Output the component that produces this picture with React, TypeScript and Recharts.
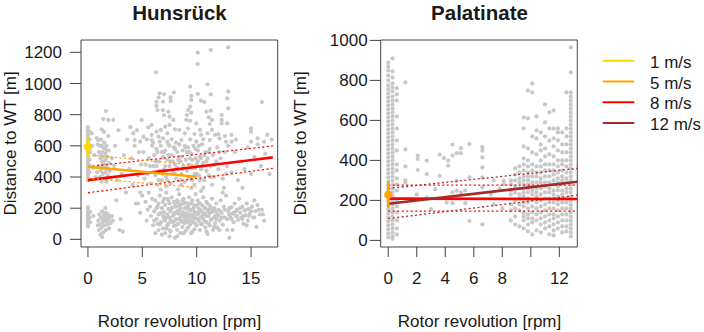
import React from 'react'
import { ScatterChart, Scatter, XAxis, YAxis, ReferenceArea } from 'recharts'

// wind speed classes (legend + fitted lines)
const speedLabels = ['1 m/s', '5 m/s', '8 m/s', '12 m/s']
const speedColors = ['#ffd700', '#ffa500', '#ff0000', '#a52a2a']

// ---------- Hunsrück: raw observations [rpm, distance m] ----------
const hunsZeroCol = [
  [0, 720], [0, 700], [0, 685], [0, 668], [0, 650], [0, 635], [0, 615], [0, 600], [0, 578], [0, 560],
  [0, 545], [0, 530], [0, 515], [0, 500], [0, 485], [0, 470], [0, 455], [0, 440], [0, 425], [0, 410],
  [0, 395], [0, 380], [0, 205], [0, 188], [0, 172], [0, 155], [0, 140], [0, 125], [0, 110], [0, 95], [0, 82],
  [0.15, 690], [0.15, 640], [0.2, 560], [0.15, 510], [0.2, 470], [0.15, 430], [0.2, 175], [0.15, 140],
  [0.2, 110], [0.34, 680], [0.4, 600], [0.5, 460], [0.6, 540], [0.7, 400], [0.8, 650], [0.5, 150],
  [0.9, 90], [0.95, 637],
]
const hunsLeftCluster = [
  [1.0, 560], [1.05, 470], [1.1, 600], [1.1, 400], [1.15, 520], [1.2, 440], [1.2, 640], [1.25, 370],
  [1.3, 500], [1.3, 560], [1.35, 420], [1.4, 590], [1.4, 460], [1.45, 530], [1.5, 390], [1.5, 620],
  [1.55, 480], [1.6, 550], [1.6, 430], [1.65, 510], [1.7, 370], [1.7, 600], [1.75, 460], [1.8, 530],
  [1.85, 410], [1.9, 570], [1.95, 490], [2.0, 440], [0.85, 430], [0.9, 610], [1.66, 823], [1.41, 772],
  [1.87, 766], [2.33, 766], [1.26, 706], [1.47, 689], [1.87, 663], [1.2, 540], [1.45, 500], [1.6, 470],
  [1.75, 570], [1.35, 480], [1.55, 580], [1.8, 450], [1.25, 600], [1.65, 390],
]
const hunsLowCluster = [
  [0.95, 120], [1.0, 60], [1.05, 160], [1.1, 95], [1.15, 30], [1.2, 140], [1.25, 75], [1.3, 180],
  [1.35, 110], [1.4, 45], [1.45, 150], [1.5, 90], [1.55, 130], [1.6, 170], [1.65, 60], [1.7, 115],
  [1.75, 145], [1.8, 95], [1.85, 160], [1.9, 125], [1.95, 70], [2.0, 140], [2.1, 105], [2.2, 150],
  [1.3, 15], [1.6, 200], [2.3, 120], [1.4, 130], [1.7, 150], [1.5, 165], [1.8, 120],
]
const hunsSparse = [
  [2.2, 520], [2.4, 470], [2.5, 600], [2.7, 380], [2.9, 60], [3.0, 130], [3.1, 420], [3.3, 540],
  [3.5, 300], [3.6, 640], [3.8, 450], [4.0, 520], [4.1, 350], [4.3, 600], [4.4, 230], [4.5, 700],
  [4.6, 410], [4.7, 560], [4.8, 300], [4.9, 480], [2.6, 250], [3.9, 720], [4.94, 766], [4.17, 680],
  [5.55, 719], [5.86, 734], [5.1, 659], [4.3, 637], [4.8, 627], [5.4, 642], [3.2, 50], [2.8, 700],
  [4.6, 230], [4.8, 170], [5.0, 280],
]
const hunsHigh = [
  [6.26, 1072], [6.6, 937], [7.0, 932], [6.5, 911], [7.6, 911], [7.9, 943], [6.3, 883], [6.9, 883],
  [7.6, 888], [6.3, 856], [6.4, 830], [6.9, 830], [7.4, 819], [7.0, 798], [7.5, 787], [7.85, 766],
  [7.5, 734], [7.1, 723], [6.7, 702], [6.3, 691], [7.3, 680], [8.0, 706], [5.86, 670], [6.5, 659],
  [6.9, 648], [7.7, 642], [5.86, 637], [6.6, 627], [7.3, 627], [10.1, 1198], [11.3, 1215], [12.9, 1232],
  [10.1, 1125], [9.4, 980], [11.0, 995], [11.3, 930], [12.9, 948], [12.8, 905], [12.9, 841], [16.0, 881],
  [9.5, 920], [9.5, 894], [10.1, 933], [10.4, 890], [10.7, 881], [9.4, 851], [9.2, 830], [9.5, 813],
  [9.1, 798], [9.05, 766], [9.4, 761], [10.9, 819], [11.3, 826], [11.1, 783], [11.4, 766], [11.2, 740],
  [12.3, 798], [12.3, 766], [12.3, 744], [12.8, 744], [9.96, 744], [8.4, 702], [9.2, 712], [8.9, 680],
  [9.8, 676], [10.3, 702], [10.4, 670], [11.4, 702], [11.0, 680], [11.7, 670], [12.0, 676], [12.6, 663],
  [13.2, 670], [15.0, 712], [15.0, 691], [15.6, 648], [16.5, 670], [8.6, 637], [9.4, 642], [9.96, 627],
  [10.6, 642], [11.2, 637], [12.1, 648], [12.7, 627], [13.2, 627], [15.0, 627], [16.2, 627],
]
const hunsUpperCloud = [
  [5.1, 560], [5.3, 480], [5.5, 420], [5.6, 520], [5.8, 360], [5.9, 600], [5.2, 390],
  [6.0, 470], [6.1, 540], [6.2, 410], [6.3, 580], [6.4, 350], [6.5, 500], [6.6, 440], [6.7, 600],
  [6.8, 380], [6.9, 530], [6.3, 470], [6.7, 320], [7.0, 450], [7.1, 570], [7.2, 400], [7.3, 510],
  [7.4, 610], [7.5, 470], [7.6, 360], [7.7, 540], [7.8, 430], [7.9, 590], [7.2, 340], [7.6, 500],
  [8.0, 480], [8.1, 390], [8.2, 560], [8.3, 450], [8.4, 610], [8.5, 500], [8.6, 420], [8.7, 570],
  [8.8, 470], [8.9, 370], [8.4, 530], [8.9, 600], [9.0, 510], [9.1, 440], [9.2, 590], [9.3, 480],
  [9.4, 390], [9.5, 550], [9.6, 460], [9.7, 600], [9.8, 420], [9.9, 520], [9.3, 560], [9.8, 350],
  [10.0, 480], [10.1, 570], [10.2, 410], [10.3, 530], [10.4, 450], [10.5, 610], [10.6, 490], [10.7, 380],
  [10.8, 560], [10.9, 440], [10.2, 600], [10.6, 330], [11.0, 520], [11.1, 410], [11.2, 580], [11.3, 470],
  [11.5, 540], [11.6, 400], [11.8, 500], [11.9, 590], [11.4, 350], [12.0, 450], [12.2, 520], [12.4, 390],
  [12.6, 560], [12.8, 470], [12.9, 600], [12.5, 330], [13.2, 430], [13.5, 560], [13.8, 380], [14.1, 500],
  [14.4, 450], [14.7, 590], [15.0, 420], [15.3, 530], [15.6, 610], [15.9, 470], [16.3, 550], [16.7, 420],
  [16.9, 640], [14.2, 330], [13.6, 640], [6.9, 420], [7.4, 540], [8.2, 460], [9.6, 510], [10.4, 520],
  [7.0, 560], [8.6, 530], [9.1, 560], [10.0, 420], [6.4, 560], [8.0, 580],
  [6.2, 500], [6.5, 380], [6.8, 560], [7.1, 470], [7.3, 380], [7.5, 600], [7.8, 500], [8.0, 420],
  [8.3, 510], [8.5, 380], [8.7, 450], [9.0, 590], [9.2, 400], [9.4, 520], [9.6, 380], [9.9, 460],
  [10.1, 500], [10.3, 380], [10.5, 470], [10.7, 540], [10.9, 500], [11.1, 560], [11.3, 400], [11.6, 480],
  [12.1, 560], [12.7, 420], [5.7, 470], [6.0, 620], [8.1, 620], [9.9, 580],
]
const hunsLowerCloud = [
  [5.3, 240], [5.5, 190], [5.6, 300], [5.8, 150], [5.9, 260], [5.4, 120], [5.7, 210], [6.0, 90],
  [6.1, 180], [6.2, 250], [6.3, 130], [6.4, 210], [6.5, 60], [6.5, 160], [6.6, 280], [6.7, 110],
  [6.8, 200], [6.9, 240], [6.9, 150], [6.2, 40], [6.6, 95], [6.8, 30], [7.0, 175], [7.1, 120],
  [7.1, 220], [7.2, 70], [7.3, 260], [7.3, 160], [7.4, 195], [7.4, 100], [7.5, 140], [7.5, 230],
  [7.6, 50], [7.6, 180], [7.7, 115], [7.7, 270], [7.8, 205], [7.8, 150], [7.9, 85], [7.9, 240],
  [8.0, 10], [8.0, 170], [7.2, 300], [7.5, 20], [8.1, 130], [8.1, 210], [8.2, 60], [8.2, 250],
  [8.3, 165], [8.3, 100], [8.4, 190], [8.4, 290], [8.5, 140], [8.5, 40], [8.6, 225], [8.6, 115],
  [8.7, 175], [8.7, 80], [8.8, 260], [8.8, 150], [8.9, 200], [8.9, 105], [9.0, 55], [9.0, 235],
  [8.3, 320], [8.6, 350], [9.1, 160], [9.1, 120], [9.2, 210], [9.2, 75], [9.3, 270], [9.3, 140],
  [9.4, 185], [9.4, 95], [9.5, 230], [9.5, 40], [9.6, 155], [9.6, 250], [9.7, 110], [9.7, 200],
  [9.8, 175], [9.8, 65], [9.9, 135], [9.9, 290], [10.0, 215], [10.0, 90], [9.5, 330], [10.1, 160],
  [10.1, 250], [10.2, 120], [10.2, 195], [10.3, 60], [10.3, 230], [10.4, 145], [10.5, 180], [10.5, 95],
  [10.6, 270], [10.6, 130], [10.7, 205], [10.8, 75], [10.8, 165], [10.9, 240], [10.9, 110], [11.0, 185],
  [11.0, 35], [10.4, 310], [11.1, 150], [11.2, 215], [11.2, 90], [11.3, 125], [11.4, 260], [11.4, 175],
  [11.5, 60], [11.6, 200], [11.6, 140], [11.7, 105], [11.8, 230], [11.9, 160], [11.9, 75], [12.0, 190],
  [12.1, 120], [12.2, 250], [12.3, 170], [12.4, 95], [12.5, 210], [12.6, 140], [12.7, 280], [12.8, 60],
  [12.9, 180], [13.0, 10], [12.4, 300], [13.1, 140], [13.2, 205], [13.3, 165], [13.4, 110], [13.5, 230],
  [13.6, 150], [13.7, 190], [13.8, 125], [13.9, 260], [14.0, 170], [14.1, 140], [14.2, 210], [14.3, 100],
  [14.4, 185], [14.5, 155], [14.6, 230], [14.7, 120], [14.8, 195], [14.9, 165], [15.1, 210], [15.2, 140],
  [15.4, 180], [15.5, 80], [15.6, 220], [15.8, 160], [16.0, 190], [16.2, 120], [15.3, 250],
  [7.0, 130], [7.8, 110], [8.4, 220], [8.9, 130], [9.3, 190], [9.9, 160], [10.5, 140], [11.1, 190],
  [11.7, 150], [12.3, 140], [13.0, 160], [13.6, 180], [14.3, 150], [8.0, 120], [9.0, 170], [10.2, 170],
  [6.1, 120], [6.3, 200], [6.5, 230], [6.7, 170], [6.9, 70], [7.0, 260], [7.2, 140], [7.3, 90],
  [7.4, 250], [7.6, 120], [7.7, 200], [7.9, 160], [8.0, 230], [8.1, 90], [8.2, 180], [8.3, 240],
  [8.4, 130], [8.5, 200], [8.6, 160], [8.7, 250], [8.8, 110], [8.9, 230], [9.0, 140], [9.1, 200],
  [9.2, 110], [9.3, 230], [9.4, 160], [9.5, 120], [9.6, 190], [9.7, 140], [9.8, 220], [9.9, 100],
  [10.0, 170], [10.1, 130], [10.2, 230], [10.3, 190], [10.4, 100], [10.5, 220], [10.6, 160], [10.7, 120],
  [10.8, 200], [10.9, 150], [11.0, 230], [11.1, 100], [11.2, 170], [11.3, 200], [11.4, 130], [11.5, 190],
  [11.6, 80], [11.7, 180], [11.8, 130], [12.0, 150], [12.2, 180], [12.4, 140], [12.6, 190], [12.8, 130],
  [13.0, 200], [13.2, 130], [13.4, 170], [13.7, 150], [14.0, 200], [14.2, 130], [14.5, 190], [14.8, 150],
  [15.0, 180], [15.3, 140], [15.7, 190], [16.1, 160], [7.5, 60], [8.8, 40], [9.6, 50], [10.9, 50],
  [12.1, 60], [6.4, 100], [7.1, 40], [8.2, 20], [13.3, 60], [14.6, 90],
]

// Hunsrück fitted relationships
const hunsMean1 = 592
const hunsBar1 = [530, 658]
const hunsX5 = [0, 10]
const hunsFit5 = [466, 402]
const hunsLow5 = [392, 333]
const hunsHigh5 = [543, 475]
const hunsX8 = [0, 17]
const hunsFit8 = [380, 526]
const hunsLow8 = [299, 455]
const hunsHigh8 = [466, 600]

// ---------- Palatinate: raw observations ----------
const palLeftX = [0, 0.3, 0.6]
const palLeftY = [
  [890, 870, 850, 825, 800, 775, 755, 735, 715, 695, 675, 655, 635, 615, 595, 575, 555, 535, 515, 495,
    475, 455, 435, 415, 395, 375, 355, 335, 315, 295, 275, 255, 235, 215, 195, 175, 155, 135, 115, 95, 75,
    55, 35, 15],
  [910, 845, 815, 785, 765, 745, 720, 700, 680, 660, 640, 620, 600, 580, 560, 540, 520, 500, 480, 460,
    440, 420, 400, 380, 360, 340, 320, 300, 280, 260, 240, 220, 200, 180, 160, 140, 120, 100, 80, 60, 40,
    20, 8],
  [760, 730, 700, 620, 560, 500, 450, 380, 350, 310, 280, 250, 200, 170, 140, 100, 60, 30],
]
const palMid = [
  [1.2, 790], [1.2, 455], [1.2, 370], [1.2, 300], [1.2, 290], [2.07, 424], [2.07, 407], [2.07, 352],
  [2.0, 230], [2.7, 399], [2.7, 332], [2.7, 214], [3.0, 156], [3.3, 256], [3.6, 429], [3.6, 323],
  [3.9, 412], [4.1, 189], [4.2, 399], [4.2, 374], [4.5, 479], [4.5, 424], [4.5, 240], [4.5, 186],
  [4.8, 436], [4.8, 298], [4.8, 248], [5.1, 461], [5.1, 436], [5.1, 240], [5.4, 186], [5.4, 250],
  [5.7, 482], [5.7, 315], [5.7, 97], [6.6, 466], [6.6, 449], [6.6, 415], [6.6, 365], [6.6, 315],
  [6.6, 265], [6.6, 80], [7.2, 230], [7.4, 300], [7.4, 180], [7.8, 260], [8.1, 298], [8.1, 281], [8.0, 160],
]
const palRightX = [8.6, 8.9, 9.2, 9.5, 9.8, 10.1, 10.4, 10.7, 11.0, 11.3, 11.6, 11.9, 12.2, 12.5, 12.8]
const palRightY = [
  [300, 280, 250, 230, 180, 150, 100],
  [360, 330, 300, 270, 240, 200, 160, 120, 80],
  [370, 340, 310, 290, 260, 230, 210, 180, 150, 70],
  [615, 560, 470, 410, 380, 350, 320, 300, 280, 260, 240, 220, 190, 170, 140, 120, 100, 60],
  [750, 610, 460, 400, 370, 340, 320, 300, 280, 260, 240, 210, 190, 160, 130, 110, 80, 45],
  [785, 740, 520, 440, 380, 350, 320, 290, 270, 250, 230, 200, 170, 140, 110, 90, 30],
  [620, 550, 510, 430, 370, 340, 320, 290, 260, 240, 220, 190, 160, 130, 100, 50],
  [540, 480, 450, 400, 370, 340, 310, 290, 260, 230, 200, 170, 140, 110, 80, 40],
  [680, 590, 520, 460, 420, 380, 350, 320, 290, 270, 240, 210, 180, 150, 120, 90, 60],
  [640, 560, 500, 430, 380, 350, 320, 290, 260, 240, 210, 190, 160, 130, 100, 70, 30],
  [650, 560, 510, 470, 420, 380, 350, 330, 300, 280, 250, 230, 210, 190, 160, 130, 110, 80, 50, 25],
  [560, 540, 500, 450, 400, 370, 340, 310, 290, 270, 250, 220, 200, 180, 150, 120, 90, 60],
  [540, 480, 440, 400, 380, 350, 320, 300, 280, 250, 230, 210, 190, 160, 130, 100, 70, 40],
  [740, 560, 520, 480, 440, 400, 370, 340, 310, 290, 260, 240, 210, 190, 160, 130, 100, 70, 45],
  [965, 840, 740, 720, 700, 680, 660, 640, 620, 600, 580, 560, 540, 520, 500, 480, 460, 440, 420, 400,
    380, 360, 340, 320, 300, 280, 260, 240, 220, 200, 180, 160, 140, 120, 100, 80, 60, 40, 20],
]

// Palatinate fitted relationships
const palMean5 = 228
const palBar5 = [163, 296]
const palX = [0, 13.26]
const palFit8 = [209, 207]
const palLow8 = [146, 146]
const palHigh8 = [276, 276]
const palFit12 = [183, 293]
const palLow12 = [109, 226]
const palHigh12 = [260, 360]

type P = { x: number; y: number }
const pairs = (rows: number[][]): P[] => rows.map(([x, y]) => ({ x, y }))
const seg = (xs: number[], ys: number[]): P[] => xs.map((x, i) => ({ x, y: ys[i] }))
const cols = (xs: number[], ys: number[][]): P[] => xs.flatMap((x, i) => ys[i].map((y) => ({ x, y })))

interface Fit { color: string; xs: number[]; fit: number[]; low: number[]; high: number[] }
interface Mean { color: string; y: number; bar: number[] }

const FONT = '"Liberation Sans", Arial, Helvetica, sans-serif'
const INK = '#1a1a1a'
const BOX = '#444'
const TICK_STYLE = { fontSize: '17px', fontFamily: FONT }

const GrayDot = (p: any) =>
  p.cx == null ? <g /> : <circle cx={p.cx} cy={p.cy} r={2.1} fill="#c8c8c8" />
const NoDot = () => <g />

interface PanelProps {
  left: number
  width: number
  marginLeft: number
  marginRight: number
  points: P[]
  xDomain: [number, number]
  yDomain: [number, number]
  xTicks: number[]
  yTicks: number[]
  hideX?: number[]
  yTickMargin: number
  fits: Fit[]
  means: Mean[]
}

function Panel(props: PanelProps) {
  const { left, width, marginLeft, marginRight, points, xDomain, yDomain, xTicks, yTicks, hideX = [], yTickMargin, fits, means } = props
  const xTick = (p: any) =>
    hideX.includes(p.payload.value) ? (
      <g />
    ) : (
      <text x={p.x} y={p.y} dy="0.71em" textAnchor="middle" fill={INK} style={TICK_STYLE}>
        {p.payload.value}
      </text>
    )
  const yTick = (p: any) => (
    <text x={p.x} y={p.y} dy="0.355em" textAnchor="end" fill={INK} style={TICK_STYLE}>
      {p.payload.value}
    </text>
  )
  return (
    <div style={{ position: 'absolute', left, top: 0 }}>
      <ScatterChart width={width} height={332} margin={{ top: 40, right: marginRight, bottom: 55, left: marginLeft }}>
        <XAxis
          type="number"
          dataKey="x"
          domain={xDomain}
          ticks={xTicks}
          interval={0}
          allowDataOverflow
          axisLine={false}
          tickLine={{ stroke: BOX }}
          tickSize={10}
          tickMargin={15}
          height={30}
          tick={xTick}
        />
        <YAxis
          type="number"
          dataKey="y"
          domain={yDomain}
          ticks={yTicks}
          interval={0}
          allowDataOverflow
          axisLine={false}
          tickLine={{ stroke: BOX }}
          tickSize={11}
          tickMargin={yTickMargin}
          width={60}
          tick={yTick}
        />
        <ReferenceArea x1={xDomain[0]} x2={xDomain[1]} y1={yDomain[0]} y2={yDomain[1]} fill="none" stroke={BOX} strokeWidth={1} ifOverflow="visible" />
        <Scatter data={points} shape={GrayDot} isAnimationActive={false} />
        {fits.map((f, i) => (
          <React.Fragment key={i}>
            <Scatter data={seg(f.xs, f.low)} shape={NoDot} line={{ stroke: f.color, strokeWidth: 1.3, strokeDasharray: '2 2.5' }} isAnimationActive={false} />
            <Scatter data={seg(f.xs, f.high)} shape={NoDot} line={{ stroke: f.color, strokeWidth: 1.3, strokeDasharray: '2 2.5' }} isAnimationActive={false} />
            <Scatter data={seg(f.xs, f.fit)} shape={NoDot} line={{ stroke: f.color, strokeWidth: 2.6 }} isAnimationActive={false} />
          </React.Fragment>
        ))}
        {means.map((m, i) => (
          <React.Fragment key={`m${i}`}>
            <Scatter data={seg([0, 0], m.bar)} shape={NoDot} line={{ stroke: m.color, strokeWidth: 2.6 }} isAnimationActive={false} />
            <Scatter
              data={[{ x: 0, y: m.y }]}
              shape={(p: any) => <circle cx={p.cx} cy={p.cy} r={4} fill={m.color} />}
              isAnimationActive={false}
            />
          </React.Fragment>
        ))}
      </ScatterChart>
    </div>
  )
}

const hunsPoints = [
  ...pairs(hunsZeroCol),
  ...pairs(hunsLeftCluster),
  ...pairs(hunsLowCluster),
  ...pairs(hunsSparse),
  ...pairs(hunsHigh),
  ...pairs(hunsUpperCloud),
  ...pairs(hunsLowerCloud),
]
const palPoints = [...cols(palLeftX, palLeftY), ...pairs(palMid), ...cols(palRightX, palRightY)]

export default function App() {
  const titles = [
    { text: 'Hunsrück', cx: 179.5, yLabelX: 10 },
    { text: 'Palatinate', cx: 479.5, yLabelX: 300 },
  ]
  return (
    <div style={{ position: 'absolute', left: 0, top: 0, width: 704, height: 332, background: '#fff', fontFamily: FONT, overflow: 'hidden' }}>
      <Panel
        left={0}
        width={300}
        marginLeft={21}
        marginRight={22.3}
        points={hunsPoints}
        xDomain={[-0.64, 17.45]}
        yDomain={[-49, 1279]}
        xTicks={[0, 5, 10, 15]}
        yTicks={[0, 200, 400, 600, 800, 1000, 1200]}
        yTickMargin={8}
        fits={[
          { color: speedColors[2], xs: hunsX8, fit: hunsFit8, low: hunsLow8, high: hunsHigh8 },
          { color: speedColors[1], xs: hunsX5, fit: hunsFit5, low: hunsLow5, high: hunsHigh5 },
        ]}
        means={[{ color: speedColors[0], y: hunsMean1, bar: hunsBar1 }]}
      />
      <Panel
        left={300}
        width={290}
        marginLeft={20.7}
        marginRight={12.7}
        points={palPoints}
        xDomain={[-0.53, 13.26]}
        yDomain={[-33, 1002]}
        xTicks={[0, 2, 4, 6, 8, 10, 12]}
        hideX={[10]}
        yTicks={[0, 200, 400, 600, 800, 1000]}
        yTickMargin={2}
        fits={[
          { color: speedColors[2], xs: palX, fit: palFit8, low: palLow8, high: palHigh8 },
          { color: speedColors[3], xs: palX, fit: palFit12, low: palLow12, high: palHigh12 },
        ]}
        means={[{ color: speedColors[1], y: palMean5, bar: palBar5 }]}
      />
      <svg width={704} height={332} style={{ position: 'absolute', left: 0, top: 0, pointerEvents: 'none' }}>
        {titles.map((t) => (
          <g key={t.text}>
            <text x={t.cx} y={20} textAnchor="middle" fontSize={20.5} fontWeight="bold" fill={INK}>
              {t.text}
            </text>
            <text x={t.cx} y={327} textAnchor="middle" fontSize={17} fill={INK}>
              Rotor revolution [rpm]
            </text>
            <text
              x={t.yLabelX}
              y={143.5}
              transform={`rotate(-90 ${t.yLabelX} 143.5)`}
              textAnchor="middle"
              dominantBaseline="central"
              fontSize={17}
              fill={INK}
            >
              Distance to WT [m]
            </text>
          </g>
        ))}
        {speedLabels.map((label, i) => {
          const y = 60.7 + i * 20.8
          return (
            <g key={label}>
              <line x1={602.7} x2={634.3} y1={y} y2={y} stroke={speedColors[i]} strokeWidth={2} />
              <text x={650} y={y + 1.5} dominantBaseline="central" fontSize={17} fill={INK}>
                {label}
              </text>
            </g>
          )
        })}
      </svg>
    </div>
  )
}
